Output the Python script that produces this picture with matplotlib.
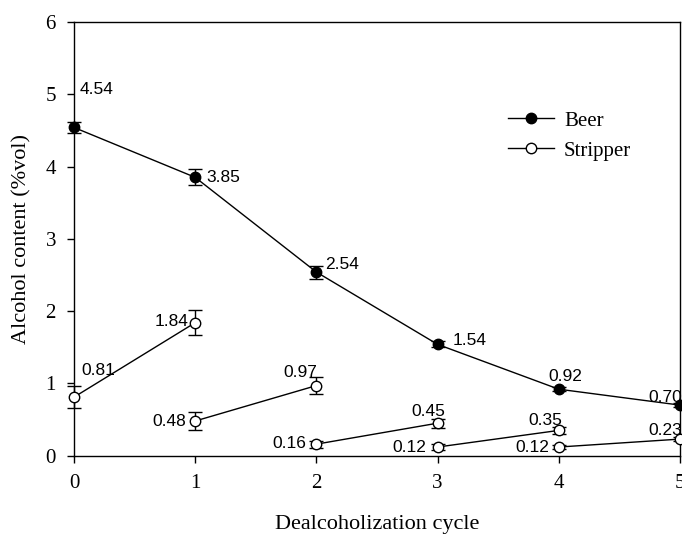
import numpy as np
import matplotlib
matplotlib.use("Agg")
import matplotlib.pyplot as plt
from matplotlib.lines import Line2D

cycles = [0, 1, 2, 3, 4, 5]
beer = [4.54, 3.85, 2.54, 1.54, 0.92, 0.70]
beer_err = [0.08, 0.11, 0.09, 0.04, 0.03, 0.03]

# stripper: one line segment per cycle (start value, end value)
strip_start = [0.81, 0.48, 0.16, 0.12, 0.12]
strip_end = [1.84, 0.97, 0.45, 0.35, 0.23]
strip_start_err = [0.15, 0.12, 0.05, 0.04, 0.03]
strip_end_err = [0.17, 0.12, 0.06, 0.05, 0.03]

serif = ['Liberation Serif', 'DejaVu Serif']
sans = ['Liberation Sans', 'DejaVu Sans']

fig = plt.figure(figsize=(6.82, 5.34), dpi=100)
ax = fig.add_axes([0.1085, 0.1466, 0.8885, 0.8124])

ax.errorbar(cycles, beer, yerr=beer_err, color='black', marker='o', ms=7.5,
            mfc='black', mec='black', lw=1, capsize=5, elinewidth=1,
            clip_on=False, zorder=3)

for i in range(len(strip_start)):
    xs = [cycles[i], cycles[i + 1]]
    ys = [strip_start[i], strip_end[i]]
    es = [strip_start_err[i], strip_end_err[i]]
    ax.errorbar(xs, ys, yerr=es, color='black', marker='o', ms=7.5,
                mfc='white', mec='black', lw=1, capsize=5, elinewidth=1,
                clip_on=False, zorder=3)

# value labels: (x, y, text, dx px, dy px, ha)
labels = [
    (0, 4.54, '4.54', 6, 38, 'left'),
    (1, 3.85, '3.85', 11, 0, 'left'),
    (2, 2.54, '2.54', 9, 8, 'left'),
    (3, 1.54, '1.54', 15, 4, 'left'),
    (4, 0.92, '0.92', 7, 13, 'center'),
    (5, 0.70, '0.70', 2, 8, 'right'),
    (0, 0.81, '0.81', 7, 27, 'left'),
    (1, 1.84, '1.84', -7, 1, 'right'),
    (1, 0.48, '0.48', -9, 0, 'right'),
    (2, 0.97, '0.97', 1, 13, 'right'),
    (2, 0.16, '0.16', -10, 1, 'right'),
    (3, 0.45, '0.45', -9, 12, 'center'),
    (3, 0.12, '0.12', -11, 0, 'right'),
    (4, 0.35, '0.35', 3, 10, 'right'),
    (4, 0.12, '0.12', -10, 0, 'right'),
    (5, 0.23, '0.23', 2, 9, 'right'),
]
for x, y, t, dx, dy, ha in labels:
    ax.annotate(t, (x, y), xytext=(dx, dy), textcoords='offset pixels',
                ha=ha, va='center', fontsize=12.5, family=sans,
                annotation_clip=False, zorder=4)

ax.set_xlim(0, 5)
ax.set_ylim(0, 6)
ax.set_xticks(cycles)
ax.set_yticks(range(7))
ax.tick_params(direction='out', length=5, width=1, labelsize=15,
               top=False, right=False, pad=8)
for lab in ax.get_xticklabels() + ax.get_yticklabels():
    lab.set_family(serif)
for s in ax.spines.values():
    s.set_linewidth(1)

ax.set_xlabel('Dealcoholization cycle', fontsize=16, family=serif, labelpad=16)
ax.set_ylabel('Alcohol content (%vol)', fontsize=16, family=serif, labelpad=10)

handles = [
    Line2D([], [], color='black', marker='o', ms=7.5, mfc='black', mec='black', lw=1),
    Line2D([], [], color='black', marker='o', ms=7.5, mfc='white', mec='black', lw=1),
]
ax.legend(handles, ['Beer', 'Stripper'], loc='center left',
          bbox_to_anchor=(0.685, 0.737), frameon=False,
          prop={'family': serif, 'size': 15}, handlelength=2.2,
          handletextpad=0.5, labelspacing=0.5)

fig.savefig('out.png', dpi=100)
